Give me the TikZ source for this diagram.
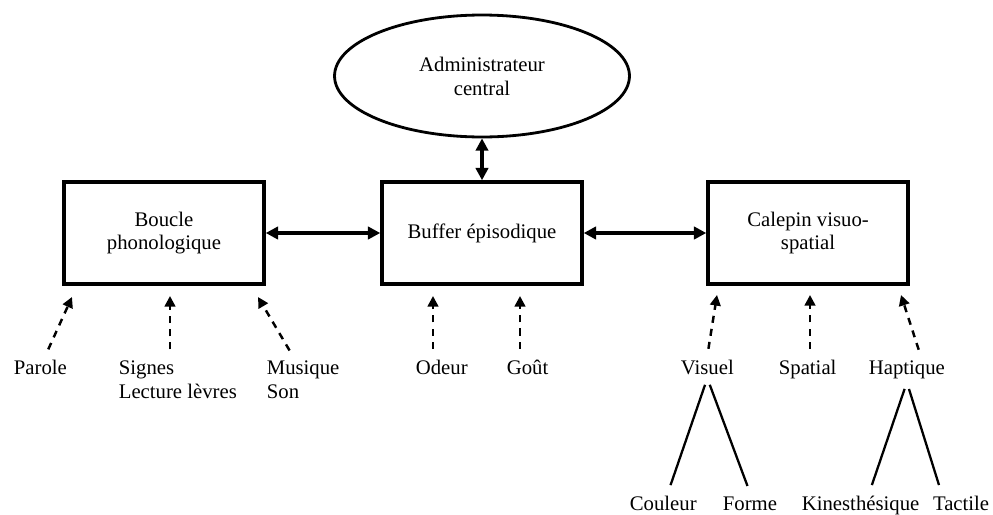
\documentclass[tikz,border=0pt]{standalone}
\usepackage{fontspec}
\setmainfont{Liberation Serif}
\usetikzlibrary{shapes.geometric,arrows.meta}

\begin{document}
\begin{tikzpicture}[x=0.02cm,y=-0.02cm,
	font=\fontsize{11.8}{13.6}\selectfont,
	bloc/.style={rectangle,draw,line width=2pt,minimum width=4cm,minimum height=2.04cm,align=center},
	lien/.style={{Triangle[length=7pt,width=7pt]}-{Triangle[length=7pt,width=7pt]},line width=2pt},
	entree/.style={-{Triangle[length=6pt,width=6pt]},line width=1.4pt,dash pattern=on 4pt off 3.5pt,shorten <=4pt},
	etiq/.style={anchor=base west,align=left,inner sep=2pt},
	branche/.style={line width=1.3pt,shorten <=4pt,shorten >=4pt}]
	\useasboundingbox (0,0) rectangle (993,514);

	\node[ellipse,draw,line width=1.6pt,minimum width=5.9cm,minimum height=2.44cm,align=center] (ad) at (482,76) {Administrateur\\central};
	\node[bloc] (bpl) at (164,233) {Boucle\\phonologique};
	\node[bloc] (be) at (482,233) {Buffer épisodique};
	\node[bloc] (cv) at (808,233) {Calepin visuo-\\spatial};

	\node[etiq] (parole) at (10,374) {Parole};
	\node[etiq] (signes) at (115,398) {Signes\\Lecture lèvres};
	\node[etiq] (musique) at (263,398) {Musique\\Son};
	\node[etiq] (odeur) at (412,374) {Odeur};
	\node[etiq] (gout) at (503,374) {Goût};
	\node[etiq] (visuel) at (677,374) {Visuel};
	\node[etiq] (spatial) at (775,374) {Spatial};
	\node[etiq] (haptique) at (865,374) {Haptique};
	\node[etiq] (couleur) at (626,510) {Couleur};
	\node[etiq] (forme) at (719,510) {Forme};
	\node[etiq] (kin) at (798,510) {Kinesthésique};
	\node[etiq,anchor=base east] (tactile) at (993,510) {Tactile};

	\coordinate (pa) at (72,297);
	\coordinate (sa) at (170,296);
	\coordinate (ma) at (258,297);
	\coordinate (oa) at (433,296);
	\coordinate (ga) at (520,296);
	\coordinate (va) at (717,295);
	\coordinate (spa) at (810,295);
	\coordinate (ha) at (901,295);

\draw[lien] (ad) -- (be);
\draw[lien] (bpl) -- (be);
\draw[lien] (be) -- (cv);

\draw[entree] ([xshift=0.1cm]parole.north) -- (pa);
\draw[entree] (signes.north -| sa) -- (sa);
\draw[entree] ([xshift=-0.2cm]musique.north) -- (ma);
\draw[entree] (odeur.north -| oa) -- (oa);
\draw[entree] (gout.north -| ga) -- (ga);
\draw[entree] (visuel.north) -- (va);
\draw[entree] (spatial.north -| spa) -- (spa);
\draw[entree] ([xshift=0.28cm]haptique.north) -- (ha);

\draw[branche] (visuel.south) -- ([xshift=0.1cm]couleur.north);
\draw[branche] (visuel.south) -- (forme.north);
\draw[branche] (haptique.south) -- ([xshift=0.18cm]kin.north);
\draw[branche] (haptique.south) -- ([xshift=-0.4cm]tactile.north);
\end{tikzpicture}
\end{document}
